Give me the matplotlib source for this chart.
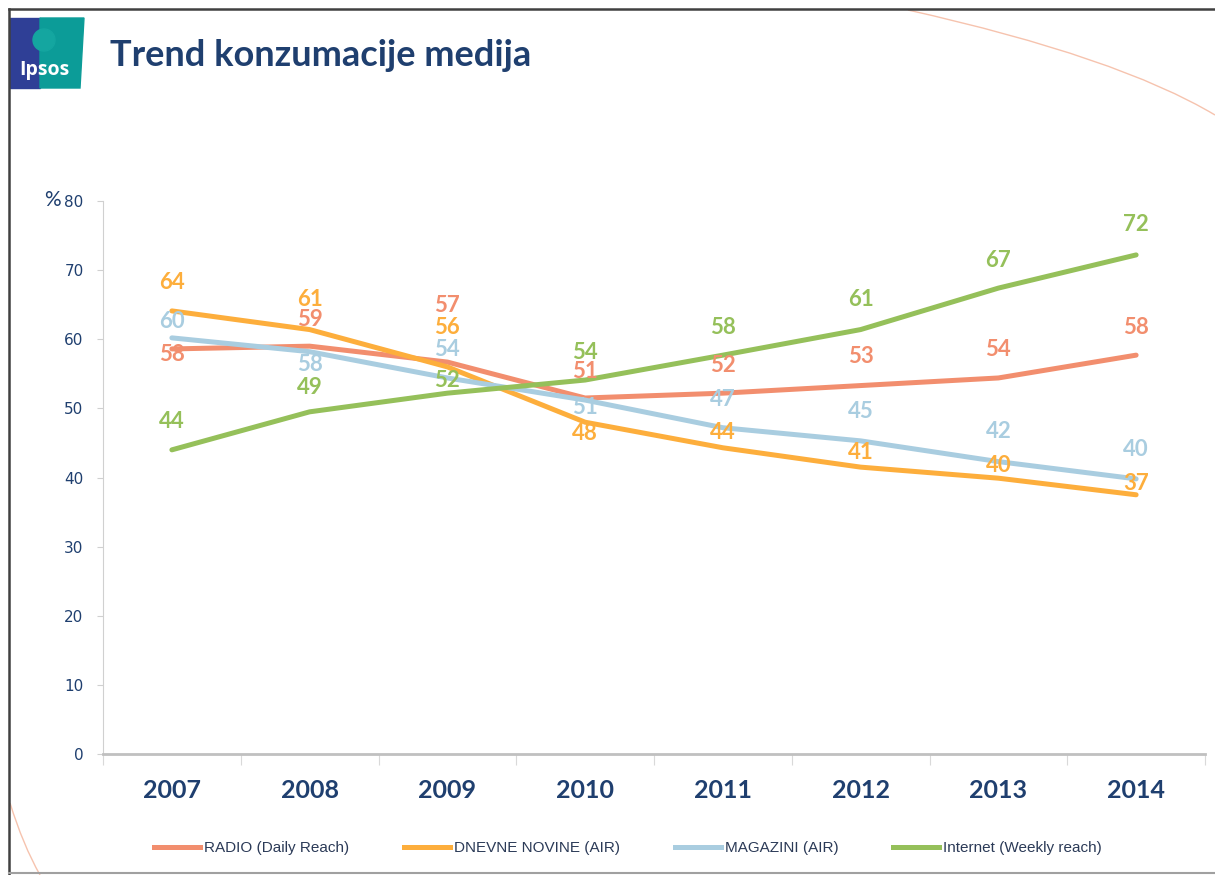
import numpy as np
import matplotlib
matplotlib.use("Agg")
import matplotlib.pyplot as plt
from matplotlib.path import Path
import matplotlib.patches as mpatches
from matplotlib.lines import Line2D

years = ["2007", "2008", "2009", "2010", "2011", "2012", "2013", "2014"]
radio = [58.6, 59.0, 56.7, 51.5, 52.2, 53.3, 54.4, 57.7]
novine = [64.1, 61.4, 56.0, 48.0, 44.3, 41.5, 39.9, 37.5]
magazini = [60.2, 58.2, 54.4, 51.2, 47.2, 45.3, 42.3, 39.8]
internet = [44.0, 49.5, 52.2, 54.1, 57.7, 61.4, 67.4, 72.2]

radio_lbl = [58, 59, 57, 51, 52, 53, 54, 58]
novine_lbl = [64, 61, 56, 48, 44, 41, 40, 37]
magazini_lbl = [60, 58, 54, 51, 47, 45, 42, 40]
internet_lbl = [44, 49, 52, 54, 58, 61, 67, 72]

names = ["RADIO (Daily Reach)", "DNEVNE NOVINE (AIR)", "MAGAZINI (AIR)", "Internet (Weekly reach)"]
colors = ["#F28E6E", "#FDAE3C", "#A9CDE0", "#95C05A"]

# label offsets in pixels (positive = up)
offs = [
    [-6, 27, 57, 27, 28, 29, 28, 28],
    [28, 30, 39, -11, 15, 15, 13, 11],
    [16, -13, 28, -7, 28, 29, 30, 29],
    [28, 24, 13, 28, 28, 30, 28, 30],
]

W, H = 1215, 875
navy = "#1F3F6F"

fig = plt.figure(figsize=(W / 100, H / 100), dpi=100)


def fx(x):
    return x / W


def fy(y):
    return 1 - y / H


ax = fig.add_axes([fx(103), fy(754), fx(1205) - fx(103), fy(201) - fy(754)])
x = np.arange(len(years))
series = [radio, novine, magazini, internet]
labels = [radio_lbl, novine_lbl, magazini_lbl, internet_lbl]
for s, lb, off, c, n in zip(series, labels, offs, colors, names):
    ax.plot(x, s, color=c, lw=3.6, label=n, solid_capstyle="round", zorder=3)
    for xi, yi, t, o in zip(x, s, lb, off):
        ax.annotate(str(t), (xi, yi), xytext=(0, o * 0.72), textcoords="offset points",
                    ha="center", va="center", color=c, fontsize=16,
                    fontfamily="Lato", fontweight="bold", zorder=4)

ax.set_xlim(-0.5, len(years) - 0.5)
ax.set_ylim(0, 80)
ax.set_yticks(range(0, 81, 10))
ax.tick_params(axis="y", colors="#D0D0D0", labelcolor=navy, labelsize=11, length=4, width=0.8, pad=10)
ax.set_xticks(x)
ax.set_xticklabels(years, fontfamily="Lato", fontweight="bold", fontsize=18, color=navy)
ax.tick_params(axis="x", length=0, pad=18)
ax.set_xticks(list(np.arange(-0.5, len(years), 1)), minor=True)
ax.tick_params(axis="x", which="minor", length=8, color="#D9D9D9", width=0.8)
for sp in ["top", "right"]:
    ax.spines[sp].set_visible(False)
ax.spines["left"].set_color("#D0D0D0")
ax.spines["left"].set_linewidth(0.8)
ax.spines["bottom"].set_color("#C0C0C0")
ax.spines["bottom"].set_linewidth(2)

fig.text(fx(52), fy(200), "%", fontsize=15, color=navy, ha="center", va="center",
         fontfamily="Lato")

handles = [Line2D([], [], color=c, lw=3.6) for c in colors]
leg = fig.legend(handles, names, loc="center", bbox_to_anchor=(fx(628), fy(848)), ncol=4,
                 frameon=False, handlelength=3.0, handletextpad=0.25, columnspacing=3.6,
                 prop={"family": "Liberation Sans", "size": 11})
for t in leg.get_texts():
    t.set_color("#2B3A57")

# title
fig.text(fx(110), fy(55), "Trend konzumacije medija", fontsize=26, fontweight="bold",
         fontfamily="Lato", color=navy, ha="left", va="center")

# logo
fig.patches.append(mpatches.Rectangle((fx(10), fy(88)), fx(40) - fx(10), fy(18) - fy(88),
                                      transform=fig.transFigure, color="#2F3F96", zorder=1))
fig.patches.append(mpatches.Polygon([(fx(40), fy(18)), (fx(84), fy(18)), (fx(80), fy(88)), (fx(40), fy(88))],
                                    closed=True, transform=fig.transFigure, color="#0C9C98", zorder=1))
fig.patches.append(mpatches.Ellipse((fx(44), fy(40)), fx(22), 22 / H, transform=fig.transFigure,
                                    color="#14A6A0", zorder=2))
fig.text(fx(44), fy(70), "Ipsos", fontsize=14, color="white", ha="center", va="center",
         fontfamily="Open Sans", fontweight="bold", zorder=3)

# page border and decorative arcs
fig.add_artist(Line2D([fx(9), fx(9)], [fy(9), fy(875)], color="#404040", lw=1.8, transform=fig.transFigure))
fig.add_artist(Line2D([fx(9), fx(1215)], [fy(9), fy(9)], color="#404040", lw=1.8, transform=fig.transFigure))
fig.add_artist(Line2D([fx(9), fx(1215)], [fy(873), fy(873)], color="#A0A0A0", lw=1.5, transform=fig.transFigure))
arc1 = Path([(fx(908), fy(10)), (fx(1118), fy(57)), (fx(1215), fy(115))],
            [Path.MOVETO, Path.CURVE3, Path.CURVE3])
fig.patches.append(mpatches.PathPatch(arc1, fill=False, edgecolor="#F6C3AE", lw=1.0, transform=fig.transFigure))
arc2 = Path([(fx(10), fy(803)), (fx(23), fy(845)), (fx(40), fy(875))],
            [Path.MOVETO, Path.CURVE3, Path.CURVE3])
fig.patches.append(mpatches.PathPatch(arc2, fill=False, edgecolor="#F6C3AE", lw=1.0, transform=fig.transFigure))

fig.savefig("out.png", dpi=100)
